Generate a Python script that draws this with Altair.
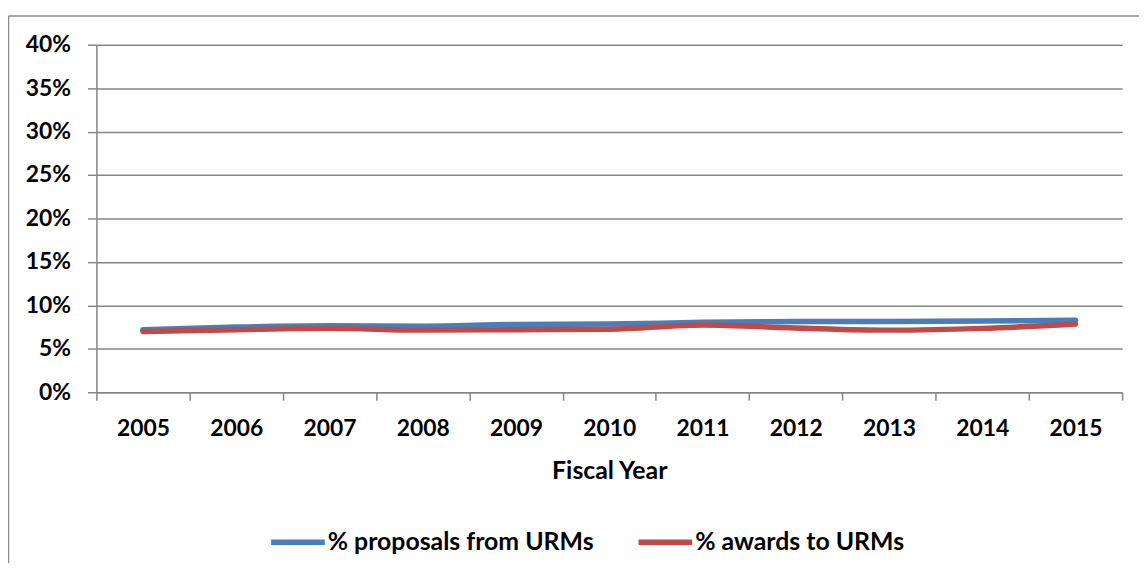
import altair as alt
import pandas as pd

years = ["2005", "2006", "2007", "2008", "2009", "2010", "2011", "2012", "2013", "2014", "2015"]
proposals = [7.2, 7.5, 7.65, 7.6, 7.8, 7.85, 8.05, 8.15, 8.15, 8.2, 8.3]
awards = [7.0, 7.2, 7.35, 7.15, 7.2, 7.25, 7.75, 7.4, 7.15, 7.35, 7.85]
series_names = ["% proposals from URMs", "% awards to URMs"]
series_colors = ["#4A7EBB", "#BE4B48"]
y_ticks = [0, 5, 10, 15, 20, 25, 30, 35, 40]

df = pd.DataFrame(
    {"year": years * 2,
     "value": proposals + awards,
     "series": [series_names[0]] * len(years) + [series_names[1]] * len(years)}
)

FONT = "Lato"
GRID = "#868686"
W, H = 1033, 350

color = alt.Color(
    "series:N",
    scale=alt.Scale(domain=series_names, range=series_colors),
    legend=alt.Legend(
        title=None, orient="none", direction="horizontal",
        legendX=173, legendY=471, padding=0,
        symbolType="stroke", symbolSize=2916, symbolStrokeWidth=5.5,
        labelFont=FONT, labelFontSize=25, labelFontWeight="bold", labelColor="#000000",
        labelOffset=0, columnPadding=34, labelLimit=0,
    ),
)

x = alt.X(
    "year:O",
    scale=alt.Scale(type="band", paddingInner=0, paddingOuter=0),
    bandPosition=0.5,
    axis=alt.Axis(
        title="Fiscal Year", tickBand="extent", grid=False,
        labelAngle=0, labelPadding=18, tickSize=8,
        titlePadding=18, titleFontSize=25,
    ),
)
y = alt.Y(
    "value:Q",
    scale=alt.Scale(domain=[0, 40], nice=False),
    axis=alt.Axis(
        title=None, values=y_ticks, labelExpr="datum.value + '%'",
        labelPadding=17, tickSize=9, grid=True,
    ),
)

base = alt.Chart(df).encode(x=x, y=y, color=color)
line_p = base.transform_filter(alt.datum.series == series_names[0]).mark_line(
    strokeWidth=5.5, strokeCap="round", interpolate="monotone")
line_a = base.transform_filter(alt.datum.series == series_names[1]).mark_line(
    strokeWidth=5.5, strokeCap="round", interpolate="monotone")

frame = alt.Chart(pd.DataFrame({"k": [0]})).mark_rule(color="#8c8c8c", strokeWidth=1.5).encode(
    x=alt.value(-88.5), x2=alt.value(-88.5), y=alt.value(-29), y2=alt.value(600))
frame_top = alt.Chart(pd.DataFrame({"k": [0]})).mark_rule(color="#8c8c8c", strokeWidth=1.5).encode(
    x=alt.value(-88.5), x2=alt.value(1100), y=alt.value(-29), y2=alt.value(-29))

chart = alt.layer(frame, frame_top, line_p, line_a).properties(
    width=W, height=H,
    background="white",
    autosize=alt.AutoSizeParams(type="none"),
    padding={"left": 89, "top": 35, "right": 17, "bottom": 170},
).configure_axis(
    labelFont=FONT, labelFontSize=23, labelFontWeight="bold", labelColor="#000000",
    titleFont=FONT, titleFontSize=23, titleFontWeight="bold", titleColor="#000000",
    domainColor=GRID, domainWidth=1.5, tickColor=GRID, tickWidth=1.5,
    gridColor=GRID, gridWidth=1.5, gridOpacity=1,
).configure_view(stroke=None)

chart.save("out.html", embed_options={"renderer": "svg", "actions": False})
